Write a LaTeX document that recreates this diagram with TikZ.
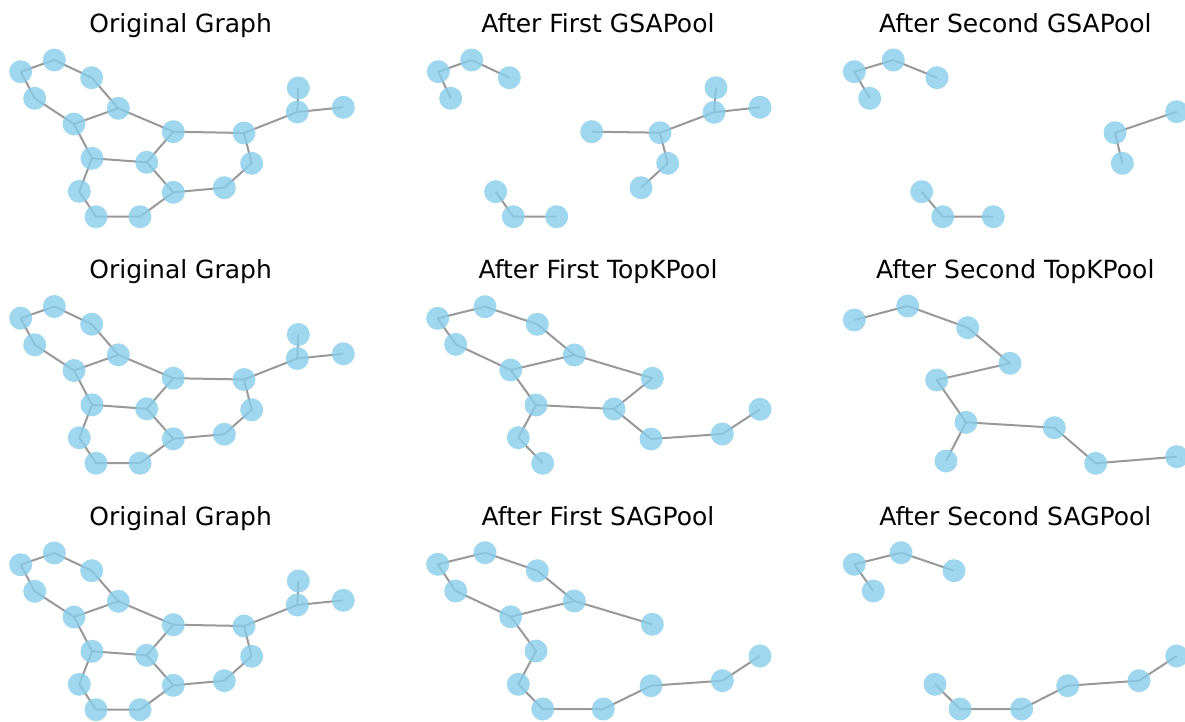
\documentclass[tikz,border=0pt]{standalone}
\usepackage{fontspec}
\setmainfont{DejaVu Sans}
\pgfdeclarelayer{bg}
\pgfsetlayers{bg,main}
\definecolor{skyb}{RGB}{135,206,235}
\definecolor{egray}{RGB}{128,128,128}
\tikzset{
  gn/.style={circle, fill=skyb, fill opacity=0.8, draw=none, minimum size=17.25pt, inner sep=0pt, outer sep=0pt},
  ge/.style={draw=egray, draw opacity=0.8, line width=1.5pt, line join=round},
  ttl/.style={anchor=base, font=\fontsize{18.75}{22}\selectfont, text=black, inner sep=0pt},
}
\newcommand\drawOrig[1]{%
  \node[gn] (#1n1) at (20.7,71.7) {};
  \node[gn] (#1n2) at (54.3,60) {};
  \node[gn] (#1n3) at (91.7,77.7) {};
  \node[gn] (#1n4) at (34.7,98.3) {};
  \node[gn] (#1n5) at (118.3,108.3) {};
  \node[gn] (#1n6) at (74,124) {};
  \node[gn] (#1n7) at (173.3,131.7) {};
  \node[gn] (#1n8) at (244,133) {};
  \node[gn] (#1n9) at (298.3,88) {};
  \node[gn] (#1n10) at (297.3,112) {};
  \node[gn] (#1n11) at (343.3,107.3) {};
  \node[gn] (#1n12) at (92,158.3) {};
  \node[gn] (#1n13) at (146.7,162.3) {};
  \node[gn] (#1n14) at (251.7,163.3) {};
  \node[gn] (#1n15) at (79.3,191.3) {};
  \node[gn] (#1n16) at (173.3,192.3) {};
  \node[gn] (#1n17) at (224.3,187.7) {};
  \node[gn] (#1n18) at (96,216.7) {};
  \node[gn] (#1n19) at (140,216.7) {};
  \begin{pgfonlayer}{bg}
    \draw[ge] (#1n4.center) -- (#1n1.center) -- (#1n2.center) -- (#1n3.center) -- (#1n5.center) -- (#1n7.center) -- (#1n8.center) -- (#1n10.center) -- (#1n11.center);
    \draw[ge] (#1n4.center) -- (#1n6.center) -- (#1n5.center);
    \draw[ge] (#1n10.center) -- (#1n9.center);
    \draw[ge] (#1n6.center) -- (#1n12.center) -- (#1n13.center) -- (#1n7.center);
    \draw[ge] (#1n8.center) -- (#1n14.center) -- (#1n17.center) -- (#1n16.center) -- (#1n13.center);
    \draw[ge] (#1n12.center) -- (#1n15.center) -- (#1n18.center) -- (#1n19.center) -- (#1n16.center);
  \end{pgfonlayer}
}
\begin{document}
\begin{tikzpicture}[x=0.75pt,y=-0.75pt]
\useasboundingbox (0,0) rectangle (1185,721);
\begin{pgfonlayer}{bg}
\fill[white] (0,0) rectangle (1185,721);
\end{pgfonlayer}

% titles
\node[ttl] (t11) at (180.7,32.3) {Original Graph};
\node[ttl] (t12) at (598,32.3) {After First GSAPool};
\node[ttl] (t13) at (1015.3,32.3) {After Second GSAPool};
\node[ttl] (t21) at (180.7,278.8) {Original Graph};
\node[ttl] (t22) at (598,278.8) {After First TopKPool};
\node[ttl] (t23) at (1015.3,278.8) {After Second TopKPool};
\node[ttl] (t31) at (180.7,525.3) {Original Graph};
\node[ttl] (t32) at (598,525.3) {After First SAGPool};
\node[ttl] (t33) at (1015.3,525.3) {After Second SAGPool};

% original graphs
\drawOrig{a}
\begin{scope}[shift={(0,246.5)}]
\drawOrig{b}
\end{scope}
\begin{scope}[shift={(0,493)}]
\drawOrig{c}
\end{scope}

% row 1, col 2: GSAPool first
\node[gn] (p1) at (438.3,71.7) {};
\node[gn] (p2) at (471.7,60) {};
\node[gn] (p3) at (509.3,77.7) {};
\node[gn] (p4) at (450.7,98.3) {};
\node[gn] (p5) at (591.7,131.7) {};
\node[gn] (p6) at (660,132.7) {};
\node[gn] (p7) at (716,87.7) {};
\node[gn] (p8) at (714,112.3) {};
\node[gn] (p9) at (760,107.3) {};
\node[gn] (p10) at (667.7,163.3) {};
\node[gn] (p11) at (641,187.7) {};
\node[gn] (p12) at (495.7,191.7) {};
\node[gn] (p13) at (513.3,216.7) {};
\node[gn] (p14) at (556.7,216.7) {};
\begin{pgfonlayer}{bg}
\draw[ge] (p4.center) -- (p1.center) -- (p2.center) -- (p3.center);
\draw[ge] (p5.center) -- (p6.center) -- (p8.center) -- (p9.center);
\draw[ge] (p8.center) -- (p7.center);
\draw[ge] (p6.center) -- (p10.center) -- (p11.center);
\draw[ge] (p12.center) -- (p13.center) -- (p14.center);
\end{pgfonlayer}

% row 1, col 3: GSAPool second
\node[gn] (q1) at (854.3,71.7) {};
\node[gn] (q2) at (893.3,60) {};
\node[gn] (q3) at (937,77.7) {};
\node[gn] (q4) at (869.7,98.3) {};
\node[gn] (q5) at (1115,132.7) {};
\node[gn] (q6) at (1176.7,111.7) {};
\node[gn] (q7) at (1122.3,163.3) {};
\node[gn] (q8) at (921.7,191.7) {};
\node[gn] (q9) at (942.7,216.7) {};
\node[gn] (q10) at (993.3,216.7) {};
\begin{pgfonlayer}{bg}
\draw[ge] (q4.center) -- (q1.center) -- (q2.center) -- (q3.center);
\draw[ge] (q7.center) -- (q5.center) -- (q6.center);
\draw[ge] (q8.center) -- (q9.center) -- (q10.center);
\end{pgfonlayer}

% row 2, col 2: TopKPool first
\node[gn] (r1) at (437.7,318.3) {};
\node[gn] (r2) at (485,306.7) {};
\node[gn] (r3) at (537.3,324.3) {};
\node[gn] (r4) at (455.7,344.3) {};
\node[gn] (r5) at (574.3,355) {};
\node[gn] (r6) at (510.7,370) {};
\node[gn] (r7) at (652.3,378.3) {};
\node[gn] (r8) at (536,405) {};
\node[gn] (r9) at (614,409) {};
\node[gn] (r10) at (518.3,437.7) {};
\node[gn] (r11) at (542.7,463.3) {};
\node[gn] (r12) at (651,439) {};
\node[gn] (r13) at (722.3,434) {};
\node[gn] (r14) at (760,409.3) {};
\begin{pgfonlayer}{bg}
\draw[ge] (r4.center) -- (r1.center) -- (r2.center) -- (r3.center) -- (r5.center) -- (r7.center) -- (r9.center) -- (r12.center) -- (r13.center) -- (r14.center);
\draw[ge] (r4.center) -- (r6.center) -- (r5.center);
\draw[ge] (r6.center) -- (r8.center) -- (r9.center);
\draw[ge] (r8.center) -- (r10.center) -- (r11.center);
\end{pgfonlayer}

% row 2, col 3: TopKPool second
\node[gn] (s1) at (854.3,320) {};
\node[gn] (s2) at (907.7,306) {};
\node[gn] (s3) at (967.7,327.7) {};
\node[gn] (s4) at (1010,363.3) {};
\node[gn] (s5) at (936.7,380) {};
\node[gn] (s6) at (966,422.3) {};
\node[gn] (s7) at (946,461) {};
\node[gn] (s8) at (1054.3,427.7) {};
\node[gn] (s9) at (1095.7,463.3) {};
\node[gn] (s10) at (1176.7,456.7) {};
\begin{pgfonlayer}{bg}
\draw[ge] (s1.center) -- (s2.center) -- (s3.center) -- (s4.center) -- (s5.center) -- (s6.center) -- (s8.center) -- (s9.center) -- (s10.center);
\draw[ge] (s6.center) -- (s7.center);
\end{pgfonlayer}

% row 3, col 2: SAGPool first
\node[gn] (u1) at (437.7,564.3) {};
\node[gn] (u2) at (485,552.7) {};
\node[gn] (u3) at (537.3,570.7) {};
\node[gn] (u4) at (455.7,591) {};
\node[gn] (u5) at (574.3,601) {};
\node[gn] (u6) at (510.7,616.7) {};
\node[gn] (u7) at (652.3,624.3) {};
\node[gn] (u8) at (536,651) {};
\node[gn] (u9) at (518.3,684.3) {};
\node[gn] (u10) at (542.7,709) {};
\node[gn] (u11) at (603.3,709) {};
\node[gn] (u12) at (651,685.7) {};
\node[gn] (u13) at (722.3,680.7) {};
\node[gn] (u14) at (760,656) {};
\begin{pgfonlayer}{bg}
\draw[ge] (u4.center) -- (u1.center) -- (u2.center) -- (u3.center) -- (u5.center) -- (u7.center);
\draw[ge] (u4.center) -- (u6.center) -- (u5.center);
\draw[ge] (u6.center) -- (u8.center) -- (u9.center) -- (u10.center) -- (u11.center) -- (u12.center) -- (u13.center) -- (u14.center);
\end{pgfonlayer}

% row 3, col 3: SAGPool second
\node[gn] (w1) at (854.3,564.3) {};
\node[gn] (w2) at (901,552.7) {};
\node[gn] (w3) at (954,570.7) {};
\node[gn] (w4) at (873.3,591) {};
\node[gn] (w5) at (935,684.3) {};
\node[gn] (w6) at (960,709) {};
\node[gn] (w7) at (1021.7,709) {};
\node[gn] (w8) at (1067.7,685.7) {};
\node[gn] (w9) at (1139,680.7) {};
\node[gn] (w10) at (1176.7,656) {};
\begin{pgfonlayer}{bg}
\draw[ge] (w4.center) -- (w1.center) -- (w2.center) -- (w3.center);
\draw[ge] (w5.center) -- (w6.center) -- (w7.center) -- (w8.center) -- (w9.center) -- (w10.center);
\end{pgfonlayer}
\end{tikzpicture}
\end{document}
